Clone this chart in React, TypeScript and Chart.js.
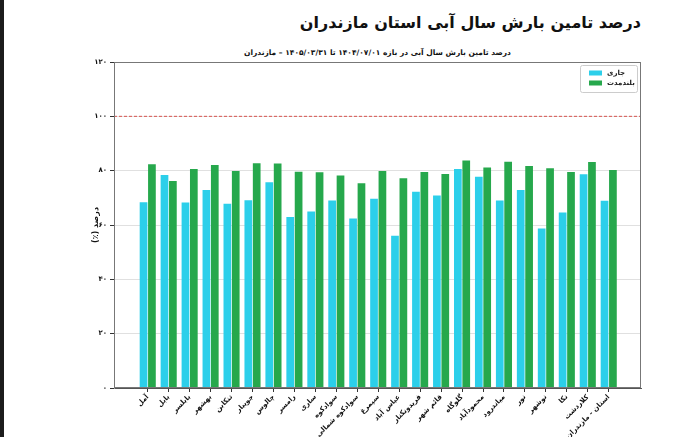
import { useRef, useEffect } from 'react';
import { Chart, registerables } from 'chart.js';

Chart.register(...registerables);

const mainTitle = 'درصد تامین بارش سال آبی استان مازندران';
const subTitle = 'درصد تامین بارش سال آبی در بازه ۱۴۰۴/۰۷/۰۱ تا ۱۴۰۵/۰۳/۳۱ – مازندران';
const yTitle = 'درصد (٪)';

const categories = [
    'آمل', 'بابل', 'بابلسر', 'بهشهر', 'تنکابن', 'جویبار', 'چالوس', 'رامسر', 'ساری', 'سوادکوه',
    'سوادکوه شمالی', 'سیمرغ', 'عباس آباد', 'فریدونکنار', 'قائم شهر', 'گلوگاه', 'محمودآباد',
    'میاندرود', 'نور', 'نوشهر', 'نکا', 'کلاردشت', 'استان - مازندران'
];
const seriesLabels = ['جاری', 'بلندمدت'];
const currentValues = [68.4, 78.4, 68.3, 72.9, 67.8, 69.1, 75.7, 62.9, 65.0, 69.0, 62.4, 69.7, 56.0, 72.2, 70.9, 80.6, 77.8, 69.0, 72.9, 58.7, 64.6, 78.7, 68.9];
const longTermValues = [82.4, 76.2, 80.6, 82.1, 79.9, 82.7, 82.6, 79.6, 79.4, 78.2, 75.4, 79.9, 77.2, 79.5, 78.8, 83.7, 81.2, 83.3, 81.7, 80.9, 79.5, 83.2, 80.2];
const yTickLabels = ['۰', '۲۰', '۴۰', '۶۰', '۸۰', '۱۰۰', '۱۲۰'];
const referenceValue = 100;

const FONT = '"DejaVu Sans", sans-serif';

// dashed red line at 100%
const refLinePlugin = {
    id: 'refLine',
    afterDatasetsDraw(chart: any) {
        const { ctx, chartArea, scales } = chart;
        const y = scales.y.getPixelForValue(referenceValue);
        ctx.save();
        ctx.strokeStyle = '#d9534f';
        ctx.lineWidth = 1;
        ctx.setLineDash([3, 2]);
        ctx.beginPath();
        ctx.moveTo(chartArea.left, y);
        ctx.lineTo(chartArea.right, y);
        ctx.stroke();
        ctx.restore();
    }
};

// box round the plot area
const framePlugin = {
    id: 'frame',
    afterDatasetsDraw(chart: any) {
        const { ctx, chartArea } = chart;
        ctx.save();
        ctx.strokeStyle = '#777';
        ctx.lineWidth = 1;
        ctx.strokeRect(chartArea.left + 0.5, chartArea.top + 0.5, chartArea.width - 1, chartArea.height - 1);
        ctx.restore();
    }
};

// legend inside the top right corner
const innerLegendPlugin = {
    id: 'innerLegend',
    afterDraw(chart: any) {
        const { ctx, chartArea } = chart;
        const w = 57, h = 27;
        const x = chartArea.right - w - 4;
        const y = chartArea.top + 3;
        ctx.save();
        ctx.fillStyle = '#fff';
        ctx.strokeStyle = '#ccc';
        ctx.lineWidth = 1;
        ctx.beginPath();
        ctx.roundRect(x + 0.5, y + 0.5, w, h, 2);
        ctx.fill();
        ctx.stroke();
        ctx.font = `bold 7px ${FONT}`;
        ctx.textAlign = 'left';
        ctx.textBaseline = 'middle';
        chart.data.datasets.forEach((ds: any, i: number) => {
            const rowY = y + 8 + i * 10;
            ctx.fillStyle = ds.backgroundColor;
            ctx.fillRect(x + 9, rowY - 2.5, 13, 5);
            ctx.fillStyle = '#222';
            ctx.fillText(ds.label, x + 27, rowY);
        });
        ctx.restore();
    }
};

export default function App() {
    const canvasRef = useRef<HTMLCanvasElement>(null);
    const chartRef = useRef<any>(null);

    useEffect(() => {
        document.body.style.margin = '0';
        if (!canvasRef.current) return;
        if (chartRef.current) chartRef.current.destroy();

        chartRef.current = new Chart(canvasRef.current, {
            type: 'bar',
            data: {
                datasets: [
                    {
                        label: seriesLabels[0],
                        data: currentValues.map((v, i) => ({ x: i, y: v })),
                        backgroundColor: '#2ccfea',
                        barPercentage: 0.92,
                        categoryPercentage: 0.8
                    },
                    {
                        label: seriesLabels[1],
                        data: longTermValues.map((v, i) => ({ x: i, y: v })),
                        backgroundColor: '#26a84c',
                        barPercentage: 0.92,
                        categoryPercentage: 0.8
                    }
                ]
            },
            options: {
                responsive: false,
                animation: false,
                layout: { padding: { left: 74, right: 59, top: 62, bottom: 0 } },
                plugins: {
                    legend: { display: false },
                    tooltip: { enabled: false },
                    title: { display: false }
                },
                scales: {
                    x: {
                        type: 'linear',
                        offset: false,
                        min: -1.61,
                        max: 23.54,
                        afterBuildTicks: (scale: any) => {
                            scale.ticks = categories.map((_, i) => ({ value: i }));
                        },
                        afterFit: (scale: any) => { scale.height = 49; },
                        border: { display: true, color: '#555' },
                        grid: { drawOnChartArea: false, drawTicks: true, tickLength: 4, tickColor: '#333', offset: false },
                        ticks: {
                            autoSkip: false,
                            minRotation: 45,
                            maxRotation: 45,
                            padding: 1,
                            color: '#111',
                            font: { family: FONT, size: 7, weight: 'bold' },
                            callback: (v: any) => categories[v]
                        }
                    },
                    y: {
                        min: 0,
                        max: 120,
                        afterFit: (scale: any) => { scale.width = 40; },
                        border: { display: true, color: '#999' },
                        grid: { color: 'rgba(0,0,0,0.12)', borderDash: [3, 3], tickLength: 4, tickColor: '#333' } as any,
                        ticks: {
                            stepSize: 20,
                            padding: 3,
                            color: '#111',
                            font: { family: FONT, size: 7, weight: 'bold' },
                            callback: (v: any) => yTickLabels[Math.round(v / 20)]
                        },
                        title: {
                            display: true,
                            text: yTitle,
                            color: '#111',
                            padding: 17,
                            font: { family: FONT, size: 8, weight: 'bold' }
                        }
                    }
                }
            },
            plugins: [refLinePlugin, framePlugin, innerLegendPlugin]
        } as any);

        return () => { if (chartRef.current) chartRef.current.destroy(); chartRef.current = null; };
    }, []);

    return (
        <div style={{ position: 'relative', width: 700, height: 437, background: '#fff', overflow: 'hidden' }}>
            <div style={{ position: 'absolute', left: 0, top: 0, width: 4, height: 437, background: '#1c1c1c' }} />
            <div dir="rtl" style={{ position: 'absolute', right: 59, top: 13, whiteSpace: 'nowrap', font: `bold 16px ${FONT}`, color: '#111' }}>
                {mainTitle}
            </div>
            <div dir="rtl" style={{ position: 'absolute', left: 114, width: 527, top: 48, textAlign: 'center', whiteSpace: 'nowrap', font: `bold 7.5px ${FONT}`, color: '#111' }}>
                {subTitle}
            </div>
            <canvas ref={canvasRef} dir="rtl" width={700} height={437} style={{ position: 'absolute', left: 0, top: 0 }}></canvas>
        </div>
    );
}
